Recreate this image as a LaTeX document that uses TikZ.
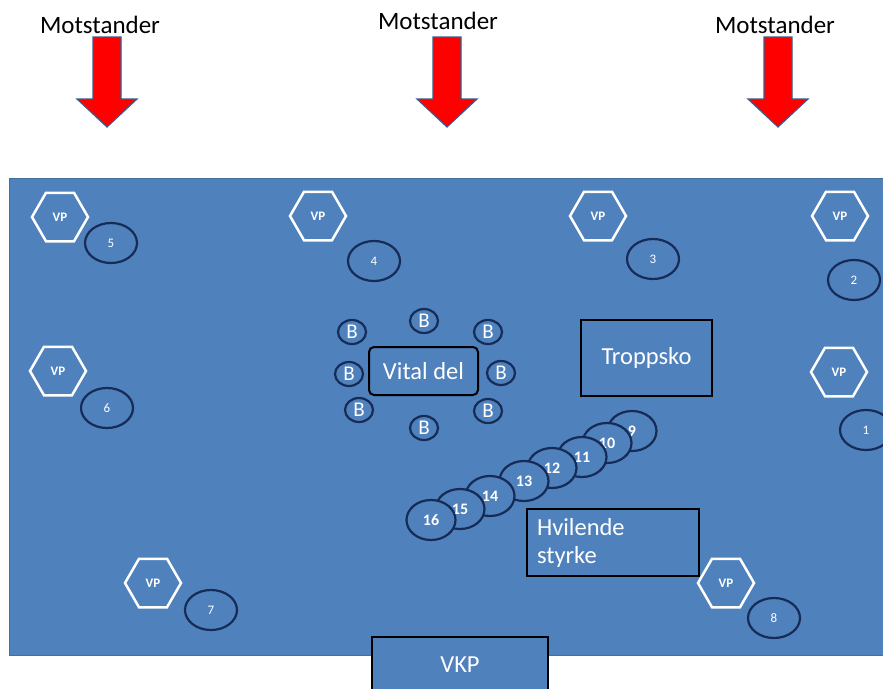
\documentclass[tikz,border=0pt]{standalone}
\usepackage{fontspec}
\setmainfont{Carlito}
\usetikzlibrary{shapes.geometric}
\definecolor{field}{HTML}{4F81BD}
\definecolor{fieldedge}{HTML}{41719C}
\definecolor{navy}{HTML}{172B57}
\definecolor{arrowedge}{HTML}{385D8A}
\begin{document}
\begin{tikzpicture}[x=1pt,y=-1pt,
  vp/.style={regular polygon, regular polygon sides=6, minimum size=56pt, draw=white, line width=2.5pt, text=white, font=\fontsize{13}{13}\selectfont\bfseries, inner sep=0pt},
  post/.style={ellipse, draw=navy, line width=2.2pt, minimum width=52pt, minimum height=40pt, inner sep=0pt, text=white, font=\fontsize{13}{13}\selectfont},
  bnode/.style={ellipse, draw=navy, line width=2.2pt, minimum width=28pt, minimum height=24pt, inner sep=0pt, text=white, font=\fontsize{21}{21}\selectfont},
  chainpost/.style={ellipse, fill=field, draw=navy, line width=2.2pt, minimum width=49pt, minimum height=40pt, inner sep=0pt, text=white, font=\fontsize{16}{16}\selectfont\bfseries},
  box/.style={draw=black, line width=2pt, text=white, font=\fontsize{24.5}{28}\selectfont, inner sep=0pt},
  label/.style={text=black, font=\fontsize{25}{25}\selectfont, inner sep=0pt},
  redarrow/.style={fill=red, draw=arrowedge, line width=1.2pt, line join=miter}
]
\useasboundingbox (0,0) rectangle (883,688);
\clip (0,0) rectangle (883,688);
\fill[white] (0,0) rectangle (883,688);

% field
\draw[fill=field, draw=fieldedge, line width=1pt] (9,178) rectangle (895,655);

% opponents
\node[label] (m1) at (100,25) {Motstander};
\node[label] (m2) at (438,21) {Motstander};
\node[label] (m3) at (775,25) {Motstander};
\foreach \cx in {107,447,778}{
  \draw[redarrow] (\cx-14,37) -- (\cx+14,37) -- (\cx+14,99) -- (\cx+30,99) -- (\cx,127) -- (\cx-30,99) -- (\cx-14,99) -- cycle;
}

% VP hexagons
\node[vp] (vp1) at (60,217) {VP};
\node[vp] (vp2) at (318,216) {VP};
\node[vp] (vp3) at (598,216) {VP};
\node[vp] (vp4) at (840,216) {VP};
\node[vp] (vp5) at (58,371) {VP};
\node[vp] (vp6) at (839,372) {VP};
\node[vp] (vp7) at (153,583) {VP};
\node[vp] (vp8) at (726,583) {VP};

% numbered posts
\node[post] (p5) at (111,243) {5};
\node[post] (p4) at (374,261) {4};
\node[post] (p3) at (653,259) {3};
\node[post] (p2) at (854,280) {2};
\node[post] (p6) at (107,408) {6};
\node[post] (p1) at (866,430) {1};
\node[post] (p7) at (211,610) {7};
\node[post] (p8) at (774,618) {8};

% vital part with guards
\node[box, rounded corners=5pt, minimum width=109pt, minimum height=48pt] (vital) at (423.5,371) {Vital del};
\node[bnode] (b1) at (424,321) {B};
\node[bnode] (b2) at (352,332) {B};
\node[bnode] (b3) at (488,332) {B};
\node[bnode] (b4) at (349,374) {B};
\node[bnode] (b5) at (501,373) {B};
\node[bnode] (b6) at (359,410) {B};
\node[bnode] (b7) at (488,411) {B};
\node[bnode] (b8) at (424,428) {B};

% boxes
\node[box, minimum width=131pt, minimum height=76pt] (tropp) at (646.5,358) {Troppsko};
\node[box, minimum width=172pt, minimum height=67pt, text width=152pt, align=left, inner xsep=10pt] (hvil) at (613,542.5) {Hvilende\\styrke};
\node[box, fill=field, minimum width=176pt, minimum height=56pt] (vkp) at (460,665) {VKP};

% chain of posts
\node[chainpost] (c9) at (632,431) {9};
\node[chainpost] (c10) at (607,443) {10};
\node[chainpost] (c11) at (582,457) {11};
\node[chainpost] (c12) at (552,468) {12};
\node[chainpost] (c13) at (524,481) {13};
\node[chainpost] (c14) at (490,496) {14};
\node[chainpost] (c15) at (460,509) {15};
\node[chainpost] (c16) at (431,520) {16};
\end{tikzpicture}
\end{document}
